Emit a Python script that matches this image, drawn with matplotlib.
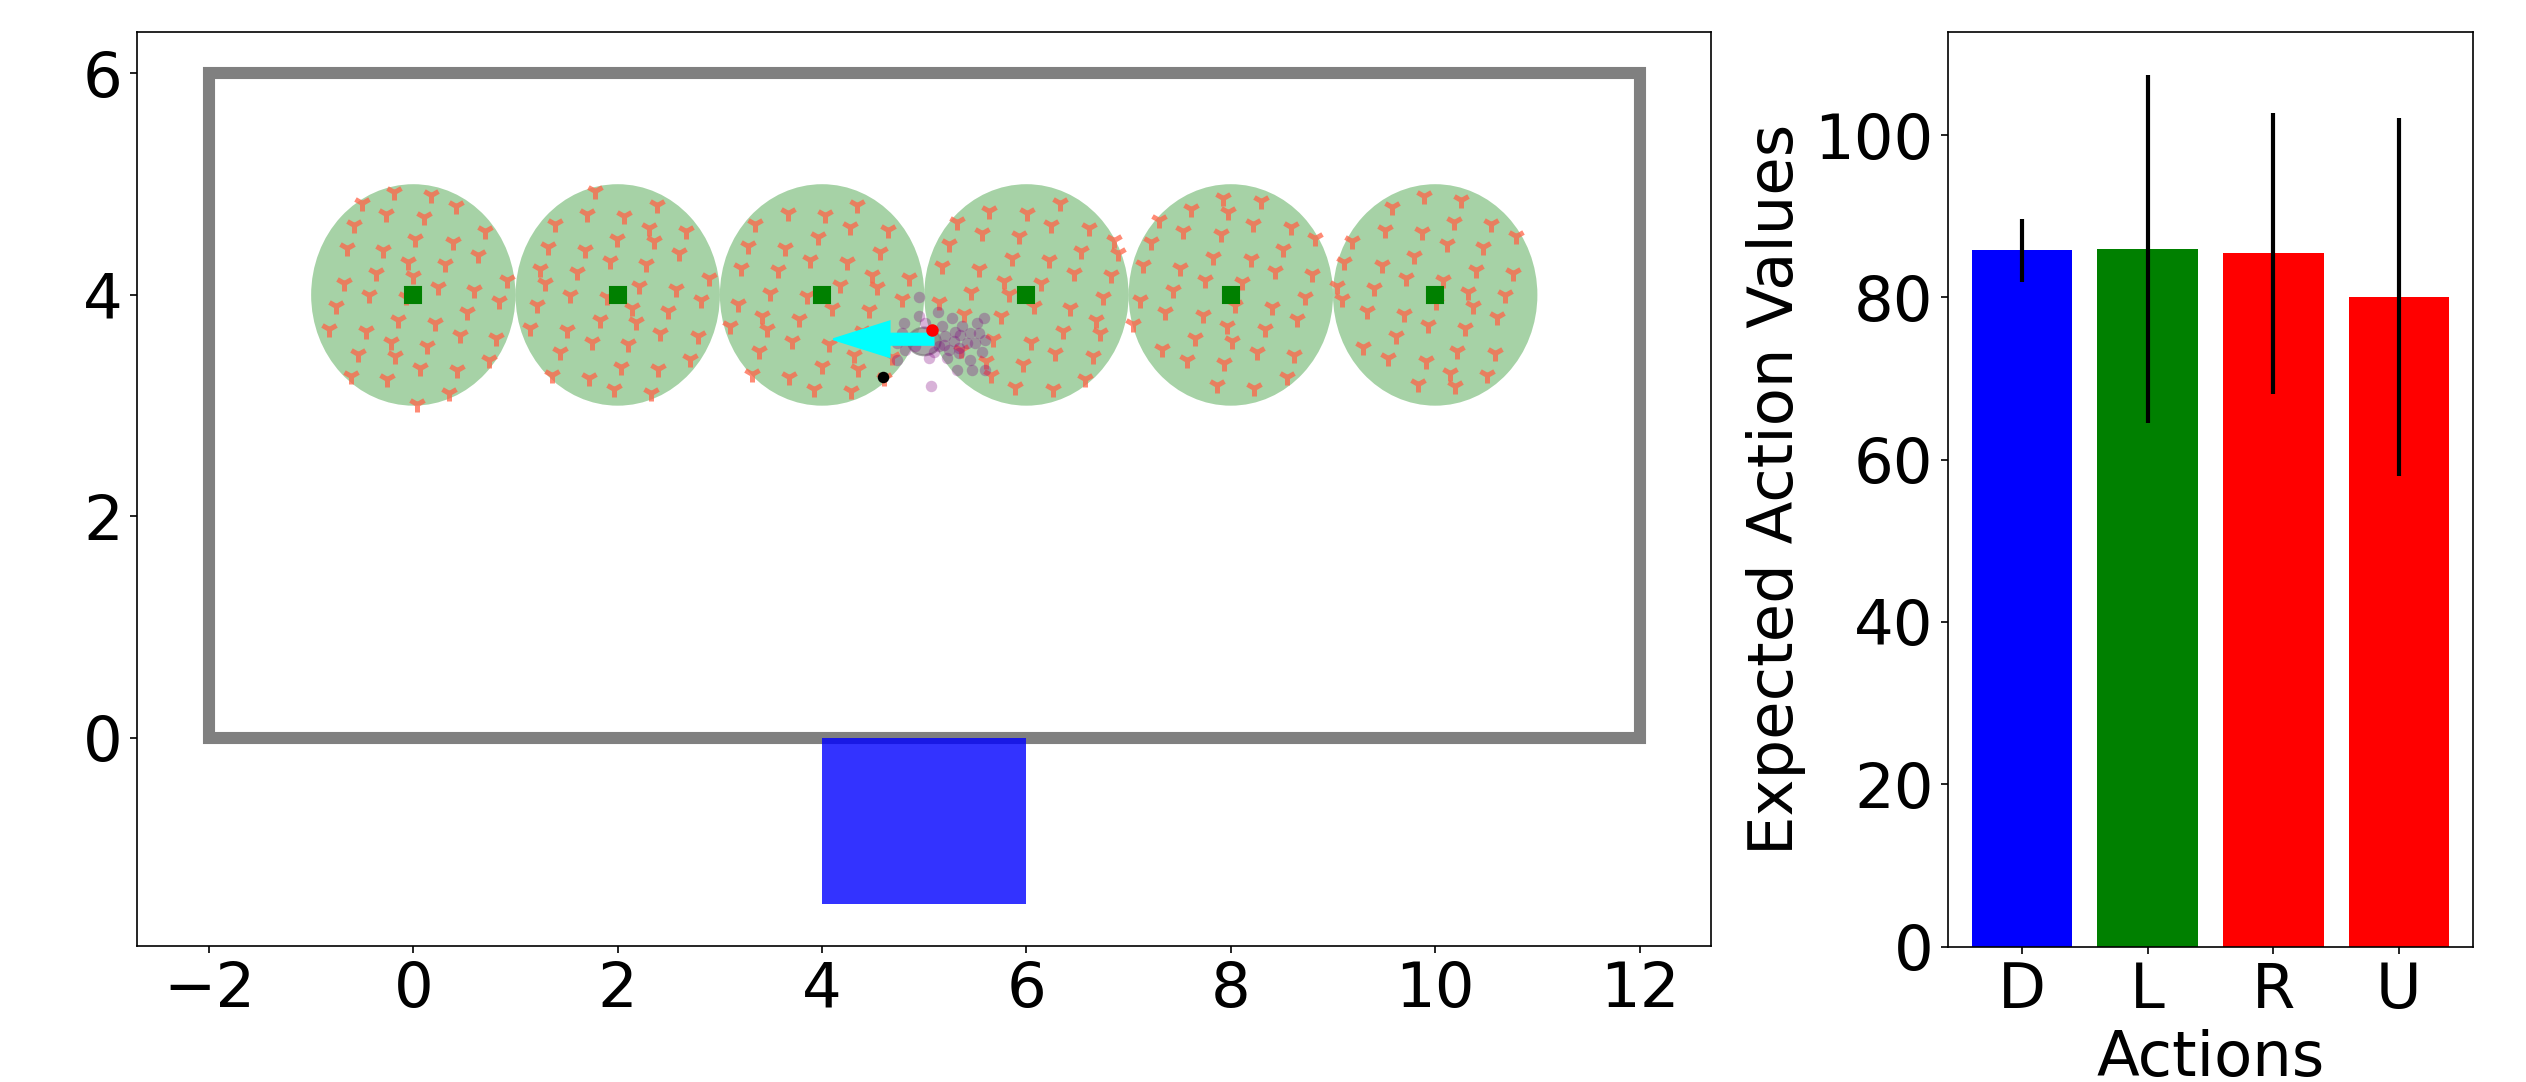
import matplotlib.pyplot as plt
import matplotlib.patches as patches
import numpy as np

plt.rcParams['font.size'] = 30

# goal centres (green squares) and arena
goal_x = [0, 2, 4, 6, 8, 10]
goal_y = [4, 4, 4, 4, 4, 4]
goal_radius = 1.0
arena = (-2, 0, 14, 6)          # x, y, width, height
exit_box = (4, -1.5, 2, 1.5)

# sampled points around each goal (offset from the goal centre)
samples_0 = [(-0.507, 0.834), (-0.188, 0.929), (0.170, 0.905), (0.413, 0.801), (-0.264, 0.727),
             (0.101, 0.703), (-0.576, 0.632), (0.701, 0.573), (0.021, 0.504), (0.389, 0.481),
             (-0.653, 0.424), (-0.292, 0.407), (0.629, 0.365), (-0.049, 0.297), (0.309, 0.276),
             (-0.368, 0.199), (0.000, 0.169), (0.917, 0.139), (-0.681, 0.104), (0.240, 0.074),
             (0.597, 0.045), (-0.438, 0.000), (-0.073, -0.015), (0.840, -0.059), (-0.757, -0.098),
             (0.528, -0.157), (-0.153, -0.228), (0.212, -0.252), (-0.826, -0.306), (-0.465, -0.326),
             (0.455, -0.362), (0.813, -0.386), (-0.222, -0.427), (0.135, -0.457), (-0.177, -0.555),
             (-0.542, -0.534), (0.743, -0.588), (0.066, -0.662), (0.424, -0.682), (-0.611, -0.733),
             (-0.253, -0.757), (0.354, -0.890), (0.038, -0.988)]
samples_1 = [(-0.220, 0.935), (0.383, 0.816), (-0.296, 0.733), (0.066, 0.712), (-0.613, 0.638),
             (0.310, 0.608), (0.669, 0.579), (-0.003, 0.504), (0.355, 0.484), (-0.683, 0.436),
             (-0.321, 0.409), (0.599, 0.377), (-0.080, 0.306), (0.279, 0.282), (-0.760, 0.231),
             (-0.401, 0.208), (0.889, 0.157), (-0.714, 0.110), (0.209, 0.080), (0.571, 0.050),
             (-0.470, 0.000), (-0.108, -0.015), (-0.794, -0.089), (0.136, -0.119), (0.815, -0.050),
             (0.495, -0.148), (-0.178, -0.223), (0.181, -0.246), (-0.857, -0.297), (-0.498, -0.318),
             (0.418, -0.347), (0.784, -0.371), (-0.254, -0.424), (0.105, -0.445), (-0.568, -0.519),
             (0.711, -0.579), (0.031, -0.653), (0.390, -0.668), (-0.282, -0.748), (-0.645, -0.721),
             (-0.038, -0.852), (0.321, -0.881)]
samples_2 = [(0.346, 0.816), (-0.333, 0.742), (0.029, 0.721), (-0.657, 0.644), (0.275, 0.614),
             (0.641, 0.588), (-0.042, 0.519), (-0.729, 0.445), (-0.363, 0.421), (0.562, 0.392),
             (-0.797, 0.243), (-0.118, 0.318), (-0.435, 0.223), (0.245, 0.297), (0.487, 0.184),
             (0.853, 0.157), (0.173, 0.089), (0.533, 0.068), (-0.510, 0.015), (-0.144, -0.009),
             (0.781, -0.039), (-0.827, -0.080), (0.095, -0.119), (0.461, -0.139), (-0.585, -0.187),
             (-0.222, -0.217), (-0.902, -0.282), (-0.542, -0.312), (-0.297, -0.415), (0.069, -0.439),
             (0.389, -0.326), (-0.614, -0.510), (0.314, -0.540), (0.683, -0.564), (-0.003, -0.644),
             (0.356, -0.668), (-0.690, -0.712), (-0.324, -0.742), (0.605, -0.751), (-0.082, -0.846),
             (0.284, -0.869)]
samples_3 = [(0.324, 0.831), (-0.363, 0.757), (0.007, 0.736), (-0.680, 0.662), (0.245, 0.632),
             (0.611, 0.602), (-0.438, 0.558), (-0.072, 0.534), (0.853, 0.496), (-0.755, 0.460),
             (0.533, 0.401), (0.899, 0.377), (-0.144, 0.332), (0.219, 0.312), (-0.827, 0.258),
             (-0.464, 0.237), (0.461, 0.199), (0.827, 0.178), (-0.222, 0.128), (0.144, 0.104),
             (-0.539, 0.030), (-0.173, 0.009), (0.748, -0.021), (-0.859, -0.065), (0.069, -0.098),
             (0.431, -0.119), (-0.611, -0.169), (-0.248, -0.193), (0.676, -0.223), (0.356, -0.326),
             (0.719, -0.347), (-0.324, -0.395), (0.042, -0.421), (-0.637, -0.496), (0.284, -0.525),
             (0.650, -0.555), (-0.395, -0.593), (-0.033, -0.623), (-0.350, -0.727), (0.575, -0.757),
             (-0.108, -0.831), (0.255, -0.852)]
samples_4 = [(-0.075, 0.875), (0.291, 0.846), (-0.389, 0.772), (-0.026, 0.748), (-0.706, 0.674),
             (0.219, 0.644), (0.585, 0.617), (-0.464, 0.573), (-0.101, 0.549), (0.827, 0.513),
             (-0.781, 0.475), (0.507, 0.415), (-0.173, 0.347), (0.193, 0.320), (-0.859, 0.273),
             (-0.493, 0.246), (0.431, 0.217), (0.797, 0.187), (-0.248, 0.139), (0.114, 0.119),
             (-0.565, 0.045), (-0.886, -0.050), (0.042, -0.089), (0.722, -0.015), (-0.641, -0.157),
             (0.405, -0.110), (-0.275, -0.178), (0.650, -0.217), (-0.958, -0.258), (-0.036, -0.282),
             (0.330, -0.312), (-0.350, -0.386), (0.013, -0.415), (-0.670, -0.484), (0.258, -0.513),
             (0.621, -0.543), (-0.428, -0.588), (-0.062, -0.611), (0.546, -0.742), (-0.134, -0.816),
             (0.225, -0.840)]
samples_5 = [(-0.107, 0.890), (0.257, 0.861), (-0.420, 0.792), (0.186, 0.662), (0.544, 0.638),
             (-0.495, 0.588), (-0.134, 0.564), (0.788, 0.528), (-0.814, 0.490), (0.111, 0.460),
             (0.472, 0.430), (-0.205, 0.356), (-0.889, 0.297), (-0.524, 0.267), (0.397, 0.228),
             (0.759, 0.199), (-0.283, 0.157), (0.081, 0.134), (-0.961, 0.080), (-0.599, 0.059),
             (0.322, 0.030), (0.684, 0.000), (-0.915, -0.036), (0.010, -0.068), (0.371, -0.098),
             (-0.671, -0.148), (-0.306, -0.169), (0.609, -0.199), (-0.068, -0.273), (0.293, -0.303),
             (-0.384, -0.371), (-0.704, -0.469), (0.218, -0.504), (0.583, -0.525), (-0.459, -0.573),
             (-0.094, -0.596), (0.147, -0.703), (0.511, -0.727), (-0.166, -0.801), (0.195, -0.825)]
samples = [samples_0, samples_1, samples_2, samples_3, samples_4, samples_5]

# agent state
agent_x, agent_y = 5.0, 3.58
agent_size = (0.32, 0.25)
arrow_start = (5.09, 3.60)
arrow_dx = -0.98
heading_x, heading_y = 5.08, 3.68
other_x, other_y = 4.60, 3.26
particles_x = [4.946, 5.135, 4.800, 5.005, 5.174, 5.272, 5.370, 5.516, 5.582, 5.207, 5.288, 5.354,
               5.452, 5.533, 5.142, 5.240, 5.337, 5.419, 5.500, 5.598, 4.783, 4.734, 4.816, 4.734,
               5.223, 5.337, 5.452, 5.565, 5.321, 5.467, 5.044, 5.070, 5.598, 4.914, 5.093, 5.191,
               5.305, 4.950]
particles_y = [3.811, 3.850, 3.751, 3.745, 3.715, 3.790, 3.715, 3.745, 3.790, 3.625, 3.580, 3.640,
               3.655, 3.655, 3.535, 3.505, 3.520, 3.565, 3.565, 3.595, 3.655, 3.565, 3.505, 3.414,
               3.430, 3.475, 3.414, 3.489, 3.324, 3.324, 3.430, 3.174, 3.324, 3.535, 3.489, 3.550,
               3.669, 3.985]

# expected action values
actions = ['D', 'L', 'R', 'U']
action_values = [85.8, 85.95, 85.45, 80.05]
action_std = [3.9, 21.4, 17.3, 22.0]
bar_colors = ['blue', 'green', 'red', 'red']

fig = plt.figure(figsize=(2526 / 150, 1082 / 150), dpi=150)
ax = fig.add_axes([0.0544, 0.1261, 0.6230, 0.8444])
ax2 = fig.add_axes([0.7712, 0.1252, 0.2078, 0.8453])

# left panel: environment
ax.add_patch(patches.Rectangle(arena[:2], arena[2], arena[3], fill=False,
                               edgecolor='gray', linewidth=5.8))
ax.add_patch(patches.Rectangle(exit_box[:2], exit_box[2], exit_box[3],
                               facecolor='blue', edgecolor='none', alpha=0.8))

for gx, gy, pts in zip(goal_x, goal_y, samples):
    ax.add_patch(patches.Ellipse((gx, gy), 2 * goal_radius, 2 * goal_radius,
                                 color='green', alpha=0.35, linewidth=0))
    px = [gx + p[0] for p in pts]
    py = [gy + p[1] for p in pts]
    ax.plot(px, py, linestyle='none', marker='1', color='tomato', alpha=0.75,
            markersize=8, markeredgewidth=2.4)

ax.plot(goal_x, goal_y, linestyle='none', marker='s', color='green', markersize=8)

ax.plot(particles_x, particles_y, linestyle='none', marker='o', color='purple',
        alpha=0.3, markersize=5.5, markeredgewidth=0)
ax.add_patch(patches.Ellipse((agent_x, agent_y), agent_size[0], agent_size[1],
                             color='gray', alpha=0.7))
ax.plot(other_x, other_y, marker='o', color='black', markersize=4.5)
ax.arrow(arrow_start[0], arrow_start[1], arrow_dx, 0, width=0.1, head_width=0.32,
         head_length=0.55, length_includes_head=True, color='cyan', zorder=5)
ax.plot(heading_x, heading_y, marker='o', color='red', markersize=5, zorder=6)

ax.set_xlim(-2.7, 12.7)
ax.set_ylim(-1.875, 6.375)
ax.set_xticks([-2, 0, 2, 4, 6, 8, 10, 12])
ax.set_yticks([0, 2, 4, 6])

# right panel: action values
ax2.bar(actions, action_values, color=bar_colors, yerr=action_std,
        error_kw={'elinewidth': 2})
ax2.set_ylabel('Expected Action Values')
ax2.set_xlabel('Actions')

plt.savefig('out.png', dpi=150)
